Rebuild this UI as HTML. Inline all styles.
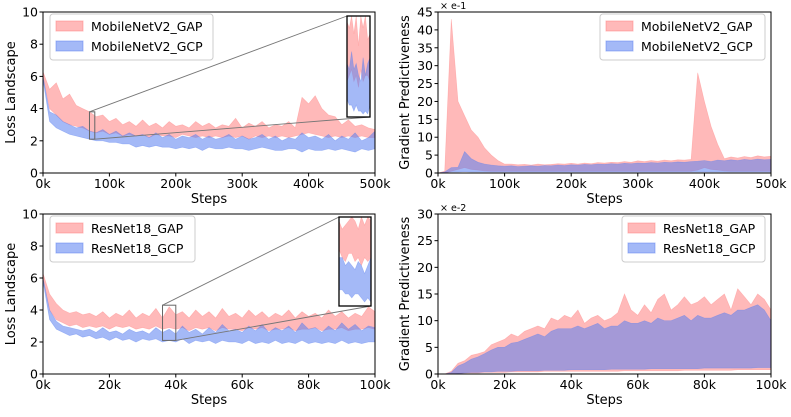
<!DOCTYPE html>
<html><head><meta charset="utf-8">
<style>
body{margin:0;background:#fff;}
svg text{font-family:"DejaVu Sans","Liberation Sans",sans-serif;fill:#000;}
</style></head>
<body>
<svg id="c" width="791" height="412" viewBox="0 0 791 412" xmlns="http://www.w3.org/2000/svg"></svg>
<script>
// ---- data: top-left (loss, MobileNetV2), x 0..500k every 10k
const tlSteps = Array.from({length:51},(_,i)=>i*10);
const tlGapHi=[6.3,5.2,5.6,4.6,4.9,4.2,4.0,3.8,3.5,3.6,3.2,3.4,3.0,3.2,2.9,3.3,2.9,3.1,2.8,3.2,2.9,3.0,2.8,3.2,2.9,3.1,2.8,3.0,2.9,3.4,2.8,3.1,2.9,3.2,2.8,3.0,2.9,3.2,2.8,4.7,4.3,4.8,4.0,3.6,3.5,3.0,3.3,2.9,3.0,2.8,2.7];
const tlGapLo=[6.0,4.0,3.6,3.2,3.0,2.9,2.8,2.6,2.5,2.6,2.4,2.5,2.3,2.4,2.3,2.4,2.2,2.4,2.3,2.3,2.2,2.4,2.3,2.2,2.3,2.2,2.3,2.2,2.3,2.2,2.3,2.1,2.3,2.2,2.3,2.2,2.3,2.2,2.3,2.4,2.5,2.4,2.3,2.2,2.3,2.2,2.3,2.2,2.3,2.2,2.2];
const tlGcpHi=[6.0,3.8,3.6,3.2,3.0,2.8,2.9,2.6,2.5,2.7,2.4,2.6,2.3,2.5,2.3,2.4,2.2,2.5,2.2,2.4,2.1,2.3,2.2,2.4,2.1,2.3,2.1,2.2,2.4,2.1,2.3,2.1,2.2,2.4,2.1,2.3,2.0,2.2,2.1,2.5,2.2,2.3,2.1,2.4,2.0,2.3,2.1,2.5,2.0,2.2,2.6];
const tlGcpLo=[5.8,3.2,2.8,2.6,2.4,2.3,2.2,2.1,2.0,2.0,1.9,1.9,1.8,1.8,1.6,1.7,1.6,1.7,1.6,1.6,1.5,1.6,1.5,1.6,1.4,1.6,1.5,1.5,1.6,1.5,1.5,1.4,1.5,1.6,1.5,1.4,1.4,1.5,1.5,1.3,1.5,1.4,1.4,1.5,1.4,1.5,1.4,1.3,1.5,1.4,1.5];
// ---- top-right (gradient predictiveness x e-1)
const trGapHi=[0,0.5,43,20,16,12,10,7,5,3.5,2.5,2.5,2.3,2.4,2.2,2.5,2.3,2.4,2.6,2.5,2.7,2.5,2.8,2.6,2.9,2.8,3.0,2.9,3.2,3.0,3.4,3.2,3.5,3.3,3.6,3.4,3.7,3.6,3.8,28,20,13,8,4,4.5,4.2,4.6,4.3,4.8,4.5,4.7];
const trGapLo=[0,0,0.5,1,1.5,1,0.8,0.6,0.5,0.5,0.5,0.5,0.5,0.5,0.5,0.5,0.5,0.5,0.5,0.5,0.5,0.5,0.5,0.5,0.5,0.5,0.5,0.5,0.5,0.5,0.5,0.5,0.5,0.5,0.5,0.5,0.5,0.5,0.5,0.8,1.5,1,0.8,0.6,0.5,0.5,0.5,0.5,0.5,0.5,0.5];
const trGcpHi=[0,0.3,1.5,1.6,6,4,3,2.5,2.2,2.0,1.9,2.0,1.8,1.9,2.0,1.9,2.1,2.0,2.2,2.1,2.3,2.2,2.4,2.3,2.5,2.4,2.6,2.5,2.7,2.6,2.8,2.7,2.9,2.8,3.0,2.9,3.1,3.0,3.2,3.3,3.5,3.2,3.6,3.4,3.7,3.5,3.8,3.6,3.9,3.7,3.8];
const trGcpLo=[0,0.2,0.3,0.3,0.4,0.3,0.3,0.3,0.3,0.3,0.3,0.3,0.3,0.3,0.3,0.3,0.3,0.3,0.3,0.3,0.3,0.3,0.3,0.3,0.3,0.3,0.3,0.3,0.3,0.3,0.3,0.3,0.3,0.3,0.3,0.3,0.3,0.3,0.3,0.3,0.3,0.3,0.3,0.3,0.3,0.3,0.3,0.3,0.3,0.3,0.3];
// ---- bottom (ResNet18), x 0..100k every 2k
const bSteps = Array.from({length:51},(_,i)=>i*2);
const blGapHi=[6.3,5.0,4.4,4.0,3.8,3.9,3.7,3.8,3.6,3.9,3.5,3.8,3.6,4.0,3.5,3.8,3.6,4.1,3.5,4.2,3.7,3.9,3.5,4.0,3.6,3.9,3.5,4.1,3.6,3.8,3.5,4.0,3.6,3.9,3.5,3.8,3.6,4.0,3.5,3.9,3.6,3.8,3.5,4.0,3.6,3.9,3.5,3.8,3.6,4.2,3.9];
const blGapLo=[6.0,4.0,3.4,3.2,3.0,3.1,2.9,3.0,2.9,3.0,2.8,3.0,2.9,3.0,2.8,2.9,2.8,3.0,2.8,2.9,2.8,2.9,2.7,2.9,2.8,2.9,2.7,2.9,2.8,2.8,2.7,2.9,2.8,2.9,2.7,2.8,2.8,2.9,2.7,2.8,2.8,2.9,2.7,2.8,2.8,2.9,2.7,2.8,2.8,2.9,2.8];
const blGcpHi=[6.0,4.0,3.3,3.0,2.9,2.8,2.7,2.8,2.6,2.9,2.6,2.7,2.5,2.8,2.6,2.7,2.5,2.9,2.6,2.8,2.5,3.0,2.6,2.8,2.5,2.9,2.6,3.1,2.7,2.8,2.6,3.0,2.7,3.1,2.6,2.9,2.7,3.0,2.6,3.2,2.8,2.9,2.6,3.0,2.7,3.2,2.8,3.1,2.7,3.0,2.9];
const blGcpLo=[5.8,3.4,2.8,2.6,2.4,2.5,2.3,2.4,2.2,2.3,2.1,2.3,2.1,2.2,2.0,2.2,2.1,2.2,2.0,2.1,2.0,2.2,1.9,2.1,2.0,2.1,1.9,2.1,2.0,2.0,1.9,2.1,1.9,2.0,1.9,2.1,1.9,2.0,1.9,2.1,1.9,2.0,1.9,2.0,1.9,2.1,1.9,2.0,1.9,2.0,2.0];
const brGapHi=[0,0,0.5,2,2.5,3.5,3.8,4.2,5.5,6,6.5,7.5,7,8,8.5,9,8.5,10.5,10,11,10.5,12,9.5,10.5,11,10,10.5,11.5,15,12,11,13,11.5,14,15,12,13,14.5,13,13.5,14.5,13,14,15,12,16,14.5,13,15,14,12];
const brGapLo=[0,0,0,0.1,0.2,0.2,0.2,0.3,0.3,0.3,0.3,0.4,0.4,0.4,0.4,0.4,0.5,0.5,0.5,0.5,0.5,0.5,0.5,0.5,0.5,0.5,0.5,0.5,0.6,0.6,0.6,0.6,0.6,0.6,0.6,0.6,0.6,0.7,0.7,0.7,0.7,0.7,0.7,0.7,0.7,0.8,0.8,0.8,0.8,0.8,0.8];
const brGcpHi=[0,0,0.3,1.5,2,2.8,3.2,3.8,4.5,5,5,5.8,6,6.5,7,7.5,7,8,8.5,8.5,8.5,9,8.5,9,9.5,8.5,9,9,10,9.5,9.5,10,9.5,10.5,10,10,10.5,11,10,11,10.5,10.5,11,11.5,11,12,12,12.5,13,12,10];
const brGcpLo=[0,0,0,0.1,0.2,0.3,0.3,0.4,0.4,0.5,0.5,0.5,0.6,0.6,0.6,0.6,0.7,0.7,0.7,0.7,0.8,0.8,0.8,0.8,0.8,0.8,0.9,0.9,0.9,0.9,0.9,0.9,1.0,1.0,1.0,1.0,1.0,1.0,1.0,1.0,1.1,1.1,1.1,1.1,1.1,1.1,1.1,1.1,1.2,1.2,1.2];
// inset zoom data
const tlInsetX=[0,1,2,3,4,5,6,7,8,9,10];
const tlInsetGapHi=[3.7,3.6,3.8,3.5,3.8,3.3,3.8,3.6,3.8,3.4,3.5];
const tlInsetGapLo=[2.7,2.8,2.9,2.7,2.8,2.6,2.9,2.7,2.8,2.8,2.7];
const tlInsetGcpHi=[3.0,2.9,3.2,2.9,3.0,2.8,2.7,3.1,2.8,3.0,3.1];
const tlInsetGcpLo=[2.4,2.3,2.3,2.2,2.3,2.2,2.2,2.15,2.2,2.15,2.3];
const blInsetGapHi=[4.2,4.0,4.1,4.2,4.3,4.2,4.0,4.3,4.1,4.3,4.2];
const blInsetGapLo=[3.5,3.3,3.2,3.4,3.4,3.2,3.3,3.1,3.3,3.2,3.3];
const blInsetGcpHi=[3.3,3.3,3.1,3.2,3.1,3.0,3.2,3.1,2.9,3.1,3.3];
const blInsetGcpLo=[2.5,2.5,2.4,2.4,2.3,2.4,2.4,2.3,2.2,2.3,2.2];

const svg=document.getElementById('c');
const NS='http://www.w3.org/2000/svg';
function mk(tag,attrs,parent){const e=document.createElementNS(NS,tag);for(const k in attrs)e.setAttribute(k,attrs[k]);(parent||svg).appendChild(e);return e;}
const PINK='#ff8080', BLUE='#5a7ff0';

function band(g,xs,hi,lo,sx,sy,color,op,name){
  let d='M'+xs.map((x,i)=>sx(x).toFixed(1)+','+sy(hi[i]).toFixed(1)).join('L');
  for(let i=xs.length-1;i>=0;i--) d+='L'+sx(xs[i]).toFixed(1)+','+sy(lo[i]).toFixed(1);
  const p=mk('path',{d:d+'Z',fill:color,'fill-opacity':op,stroke:color,'stroke-opacity':op*0.8,'stroke-width':0.6},g);
  
  
}

function panel(cfg){
  const g=mk('g',{});
  
  
  const {x0,x1,y0,y1,xmax,ymax}=cfg;
  const sx=v=>x0+(v/xmax)*(x1-x0), sy=v=>y1-(v/ymax)*(y1-y0);
  band(g,cfg.xs,cfg.gapHi,cfg.gapLo,sx,sy,PINK,0.55,'gap-band');
  band(g,cfg.xs,cfg.gcpHi,cfg.gcpLo,sx,sy,BLUE,0.55,'gcp-band');
  const ax=mk('rect',{x:x0,y:y0,width:x1-x0,height:y1-y0,fill:'none',stroke:'#000','stroke-width':1},g);
  
  
  cfg.xticks.forEach((t,i)=>{
    const X=sx(t);
    mk('line',{x1:X,y1:y1,x2:X,y2:y1+3.5,stroke:'#000'},g);
    const tx=mk('text',{x:X,y:y1+15,'font-size':12.5,'text-anchor':'middle'},g);
    tx.textContent=cfg.xlabels[i];
    
    
  });
  cfg.yticks.forEach(t=>{
    const Y=sy(t);
    mk('line',{x1:x0-3.5,y1:Y,x2:x0,y2:Y,stroke:'#000'},g);
    const tx=mk('text',{x:x0-5,y:Y+4.5,'font-size':12.5,'text-anchor':'end'},g);
    tx.textContent=t;
    
    
  });
  const xl=mk('text',{x:(x0+x1)/2,y:y1+30,'font-size':13,'text-anchor':'middle'},g);
  xl.textContent='Steps';
  
  
  const yl=mk('text',{x:0,y:0,'font-size':13,'text-anchor':'middle',transform:`translate(${cfg.ylx},${(y0+y1)/2}) rotate(-90)`},g);
  yl.textContent=cfg.ytitle;
  
  
  if(cfg.mult){
    const m=mk('text',{x:x0+2,y:y0-3,'font-size':9.5},g);
    m.textContent=cfg.mult;
    
    
  }
  const L=cfg.legend;
  const lg=mk('g',{},g);
  
  
  mk('rect',{x:L.x,y:L.y,width:L.w,height:46,rx:3,fill:'#fff','fill-opacity':0.85,stroke:'#ccc'},lg);
  [[PINK,0.55,L.a],[BLUE,0.55,L.b]].forEach((e,i)=>{
    const eg=mk('g',{},lg);
    
    
    mk('rect',{x:L.x+6,y:L.y+7+i*20,width:27,height:10,fill:e[0],'fill-opacity':e[1],stroke:e[0],'stroke-opacity':0.5},eg);
    const t=mk('text',{x:L.x+41,y:L.y+17+i*20,'font-size':12.5},eg);
    t.textContent=e[2];
  });
  if(cfg.inset){
    const I=cfg.inset;
    const ig=mk('g',{},g);
    
    
    const bx0=sx(I.dx0),bx1=sx(I.dx1),by0=sy(I.dy1),by1=sy(I.dy0);
    mk('rect',{x:bx0,y:by0,width:bx1-bx0,height:by1-by0,fill:'none',stroke:'#666','stroke-width':1},ig);
    mk('line',{x1:bx0,y1:by0,x2:I.x0,y2:I.y0,stroke:'#777','stroke-width':0.9},ig);
    mk('line',{x1:bx1,y1:by1,x2:I.x1,y2:I.y1,stroke:'#777','stroke-width':0.9},ig);
    mk('rect',{x:I.x0,y:I.y0,width:I.x1-I.x0,height:I.y1-I.y0,fill:'#fff'},ig);
    const n=I.xs.length-1;
    const ix=v=>I.x0+v/n*(I.x1-I.x0), iy=v=>I.y1-(v-I.dy0)/(I.dy1-I.dy0)*(I.y1-I.y0);
    band(ig,I.xs,I.gapHi,I.gapLo,ix,iy,PINK,0.55,'inset-gap-band');
    band(ig,I.xs,I.gcpHi,I.gcpLo,ix,iy,BLUE,0.55,'inset-gcp-band');
    mk('rect',{x:I.x0,y:I.y0,width:I.x1-I.x0,height:I.y1-I.y0,fill:'none',stroke:'#000','stroke-width':1.3},ig);
  }
}

panel({name:'panel-mobilenet-loss',x0:43,x1:375,y0:12,y1:173,xmax:500,ymax:10,xs:tlSteps,
  gapHi:tlGapHi,gapLo:tlGapLo,gcpHi:tlGcpHi,gcpLo:tlGcpLo,
  xticks:[0,100,200,300,400,500],xlabels:['0k','100k','200k','300k','400k','500k'],yticks:[0,2,4,6,8,10],
  ytitle:'Loss Landscape',ylx:15,legend:{x:50,y:14,w:163,a:'MobileNetV2_GAP',b:'MobileNetV2_GCP'},
  inset:{dx0:70,dx1:78,dy0:2.1,dy1:3.8,x0:347,y0:16,x1:370,y1:117,xs:tlInsetX,gapHi:tlInsetGapHi,gapLo:tlInsetGapLo,gcpHi:tlInsetGcpHi,gcpLo:tlInsetGcpLo}});
panel({name:'panel-mobilenet-gradient',x0:438,x1:771,y0:12,y1:173,xmax:500,ymax:45,xs:tlSteps,
  gapHi:trGapHi,gapLo:trGapLo,gcpHi:trGcpHi,gcpLo:trGcpLo,
  xticks:[0,100,200,300,400,500],xlabels:['0k','100k','200k','300k','400k','500k'],yticks:[0,5,10,15,20,25,30,35,40,45],
  ytitle:'Gradient Predictiveness',ylx:409,mult:'× e-1',legend:{x:600,y:14,w:165,a:'MobileNetV2_GAP',b:'MobileNetV2_GCP'}});
panel({name:'panel-resnet-loss',x0:43,x1:375,y0:214,y1:374,xmax:100,ymax:10,xs:bSteps,
  gapHi:blGapHi,gapLo:blGapLo,gcpHi:blGcpHi,gcpLo:blGcpLo,
  xticks:[0,20,40,60,80,100],xlabels:['0k','20k','40k','60k','80k','100k'],yticks:[0,2,4,6,8,10],
  ytitle:'Loss Landscape',ylx:15,legend:{x:50,y:216,w:145,a:'ResNet18_GAP',b:'ResNet18_GCP'},
  inset:{dx0:36,dx1:40,dy0:2.1,dy1:4.3,x0:339,y0:217,x1:371,y1:306,xs:tlInsetX,gapHi:blInsetGapHi,gapLo:blInsetGapLo,gcpHi:blInsetGcpHi,gcpLo:blInsetGcpLo}});
panel({name:'panel-resnet-gradient',x0:438,x1:771,y0:214,y1:374,xmax:100,ymax:30,xs:bSteps,
  gapHi:brGapHi,gapLo:brGapLo,gcpHi:brGcpHi,gcpLo:brGcpLo,
  xticks:[0,20,40,60,80,100],xlabels:['0k','20k','40k','60k','80k','100k'],yticks:[0,5,10,15,20,25,30],
  ytitle:'Gradient Predictiveness',ylx:409,mult:'× e-2',legend:{x:622,y:216,w:143,a:'ResNet18_GAP',b:'ResNet18_GCP'}});
</script>
</body></html>
